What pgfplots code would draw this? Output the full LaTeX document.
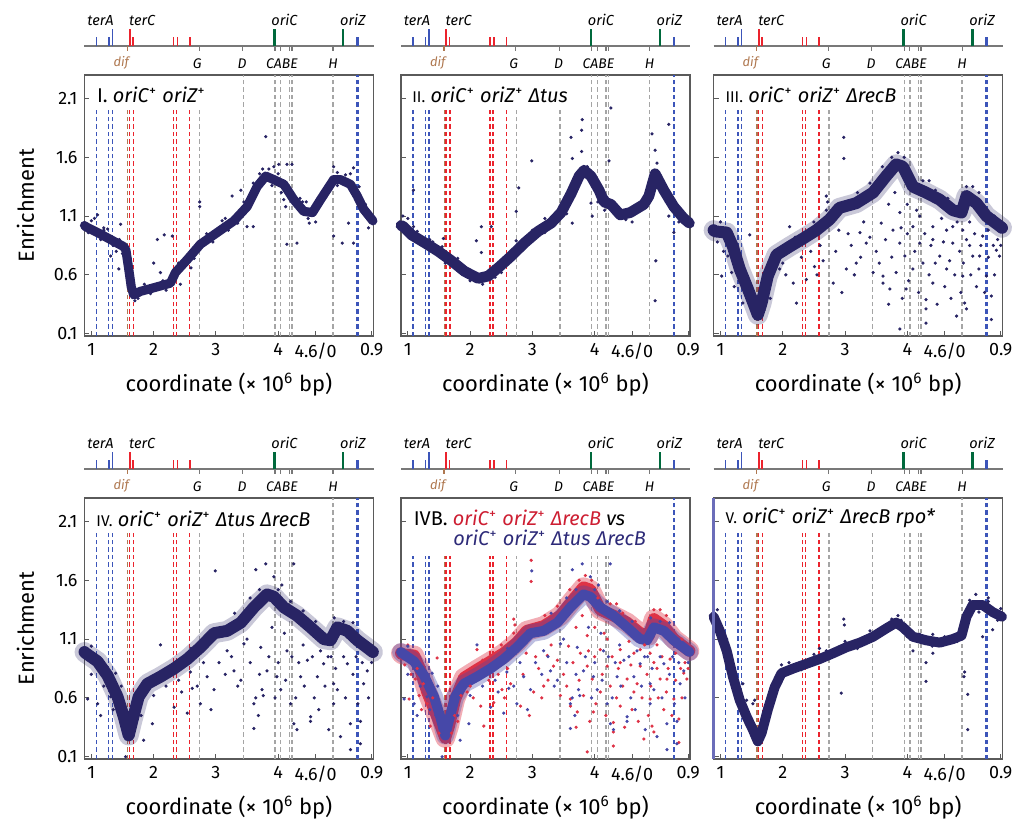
\documentclass[border=0pt]{standalone}
\usepackage{fontspec}
\setmainfont{Fira Sans}
\usepackage{pgfplots}
\usepackage{pgfplotstable}
\pgfplotsset{compat=1.18}

\definecolor{navy}{RGB}{40,36,100}
\definecolor{lred}{RGB}{235,35,45}
\definecolor{lblue}{RGB}{60,85,185}
\definecolor{lgrey}{RGB}{165,165,165}
\definecolor{dgreen}{RGB}{0,105,60}
\definecolor{difbrown}{RGB}{175,120,80}
\definecolor{mapgrey}{RGB}{120,120,120}
\definecolor{axgrey}{RGB}{90,90,90}
\definecolor{ivbred}{RGB}{222,50,70}
\definecolor{ivbblue}{RGB}{70,72,168}
\definecolor{titlered}{RGB}{205,30,50}
\definecolor{titlenavy}{RGB}{45,42,120}

\pgfplotstableread{
x y
0.89 1.02
0.91 1.01
1.10 0.96
1.31 0.90
1.52 0.84
1.555 0.81
1.60 0.65
1.64 0.50
1.68 0.43
1.79 0.46
2.00 0.49
2.27 0.53
2.35 0.62
2.54 0.73
2.75 0.86
3.02 0.96
3.29 1.06
3.50 1.18
3.66 1.35
3.80 1.44
3.93 1.41
4.09 1.37
4.25 1.24
4.41 1.14
4.55 1.13
4.68 1.24
4.89 1.41
5.00 1.41
5.16 1.37
5.27 1.27
5.37 1.16
5.52 1.06
}\bandI
\pgfplotstableread{
x y
3.80 1.775
1.10 1.11
1.05 1.08
1.26 0.99
1.47 1.03
1.44 0.65
1.31 0.76
1.40 0.80
2.06 0.90
2.17 0.94
2.00 0.70
2.11 0.62
2.30 0.93
2.74 1.22
2.74 1.18
2.43 0.52
3.26 1.27
3.40 1.32
3.50 1.01
3.60 1.01
3.93 1.52
4.01 1.54
4.14 1.54
4.22 1.54
4.09 1.24
4.12 1.18
4.14 0.86
4.30 0.87
4.39 1.22
4.89 1.52
5.21 1.51
5.16 1.46
5.03 0.87
5.21 0.87
4.89 0.93
5.13 1.04
3.85 1.50
3.70 1.46
4.05 1.30
4.45 1.22
4.60 1.05
4.50 1.04
1.70 0.38
1.75 0.40
1.66 0.60
1.62 0.75
2.60 0.66
3.10 1.06
3.20 0.98
5.45 1.00
5.30 1.35
4.95 1.47
0.95 0.96
1.20 0.98
1.00 1.06
1.15 0.90
1.20 1.00
1.35 0.85
1.45 0.90
1.50 0.78
1.85 0.52
1.95 0.44
2.15 0.55
2.20 0.47
2.40 0.70
2.65 0.74
2.85 0.95
2.95 0.88
3.15 1.08
3.35 1.04
3.45 1.22
3.55 1.20
3.60 1.38
3.75 1.50
3.90 1.36
4.00 1.46
4.20 1.33
4.30 1.18
4.35 1.25
4.48 1.08
4.62 1.18
4.70 1.30
4.80 1.30
4.95 1.36
5.08 1.45
5.20 1.30
5.33 1.24
5.40 1.20
5.50 1.10
}\dotsI
\pgfplotstableread{
x y
0.89 1.02
0.93 1.01
1.06 0.94
1.28 0.87
1.49 0.80
1.70 0.72
1.91 0.63
2.13 0.57
2.29 0.59
2.45 0.66
2.66 0.76
2.87 0.87
3.09 0.97
3.30 1.04
3.46 1.13
3.62 1.29
3.75 1.44
3.83 1.49
3.94 1.44
4.07 1.32
4.15 1.22
4.26 1.20
4.41 1.11
4.57 1.13
4.79 1.20
4.87 1.27
4.97 1.46
5.11 1.32
5.27 1.18
5.43 1.08
5.52 1.04
}\bandII
\pgfplotstableread{
x y
3.80 1.92
3.79 1.83
3.62 1.77
3.64 1.59
3.79 1.65
4.26 2.02
4.23 1.57
4.92 1.80
4.97 1.66
2.99 1.57
2.78 1.34
2.74 1.14
2.74 0.89
2.34 1.01
2.18 1.01
2.10 0.89
2.18 0.79
1.57 0.91
1.09 1.01
1.09 1.32
4.98 0.72
4.97 0.38
3.94 1.21
3.96 1.10
4.16 1.15
5.19 1.88
5.19 1.10
5.27 0.96
3.64 1.04
3.55 1.12
0.92 1.10
1.00 1.08
1.40 0.88
1.60 0.70
2.50 0.62
3.20 1.08
4.05 1.22
4.60 1.05
5.00 1.55
5.35 1.05
1.15 0.97
1.35 0.90
1.55 0.84
1.80 0.74
2.00 0.55
2.20 0.52
2.40 0.58
2.55 0.75
2.75 0.85
3.00 0.98
3.20 0.96
3.40 1.14
3.55 1.16
3.70 1.42
3.88 1.52
4.00 1.32
4.10 1.22
4.20 1.26
4.35 1.13
4.50 1.07
4.70 1.20
4.82 1.20
4.92 1.38
5.05 1.45
5.15 1.22
5.35 1.16
5.48 1.10
}\dotsII
\pgfplotstableread{
x y
0.89 0.98
0.91 0.97
1.10 0.96
1.20 0.84
1.31 0.65
1.44 0.48
1.55 0.33
1.60 0.26
1.66 0.36
1.76 0.59
1.90 0.77
2.11 0.84
2.33 0.91
2.54 0.98
2.75 1.07
2.91 1.17
3.18 1.21
3.45 1.30
3.66 1.44
3.82 1.54
3.93 1.52
4.09 1.35
4.30 1.30
4.52 1.24
4.73 1.15
4.87 1.13
4.95 1.27
5.11 1.21
5.27 1.10
5.52 1.00
}\bandIII
\pgfplotstableread{
x y
2.98 1.77
2.98 1.59
2.11 1.01
2.70 1.27
2.72 1.22
1.47 0.94
1.02 0.59
1.12 0.76
1.31 0.55
1.36 0.36
1.25 0.72
1.85 0.62
2.17 0.53
2.22 0.36
2.38 0.56
2.51 0.67
2.81 0.53
3.02 0.65
3.18 0.70
3.34 0.87
3.45 0.62
3.61 0.59
3.61 0.53
3.72 0.48
3.77 0.98
3.88 0.87
3.96 0.76
3.98 0.48
4.09 0.65
4.20 0.87
4.30 0.31
4.30 0.19
4.41 0.53
4.52 0.76
4.63 0.65
4.73 0.87
4.79 0.25
4.89 0.59
4.92 0.36
4.95 0.31
5.05 0.76
5.11 0.50
5.21 0.93
5.27 0.59
5.35 0.42
5.35 0.22
5.43 0.81
5.48 0.76
3.58 1.04
3.88 1.13
4.20 1.10
4.41 1.01
4.63 0.98
4.89 0.98
3.24 0.96
4.09 1.01
4.41 0.90
4.73 1.01
4.95 0.90
5.16 0.76
3.88 0.14
4.30 0.39
3.30 1.05
3.05 0.95
2.60 0.85
2.45 0.80
2.90 0.98
3.70 1.20
3.80 1.30
4.00 1.20
4.15 1.15
4.55 1.08
4.80 1.05
5.00 1.05
5.30 0.98
5.45 0.90
3.95 1.60
3.85 1.64
4.35 1.40
5.05 1.35
0.95 0.88
1.15 0.85
1.70 0.30
1.50 0.30
2.00 0.70
3.10 0.85
3.15 0.60
3.25 0.75
3.40 0.92
3.50 0.80
3.55 0.70
3.65 0.90
3.70 0.35
3.75 0.75
3.82 0.62
3.90 1.00
3.92 0.40
4.00 0.95
4.02 0.55
4.12 0.80
4.18 0.45
4.25 0.70
4.28 0.95
4.35 0.60
4.38 0.85
4.45 0.70
4.48 0.35
4.58 0.88
4.60 0.50
4.68 0.72
4.70 0.40
4.76 0.60
4.84 0.80
4.86 0.45
4.90 0.70
5.00 0.85
5.02 0.60
5.08 0.95
5.15 0.65
5.18 0.85
5.24 0.45
5.30 0.75
5.38 0.85
5.40 0.60
5.50 0.85
2.30 0.75
2.55 0.60
2.65 0.72
2.85 0.80
2.95 0.45
1.05 0.80
1.18 0.62
1.22 0.50
1.40 0.60
1.75 0.45
1.80 0.40
1.95 0.65
2.05 0.60
3.20 1.30
3.40 1.38
3.60 1.52
3.75 1.60
4.05 1.45
4.25 1.40
4.45 1.32
4.65 1.25
4.95 1.35
5.15 1.30
5.40 1.10
2.50 1.05
2.70 1.15
2.20 0.92
1.00 1.05
}\dotsIII
\pgfplotstableread{
x y
0.89 0.99
0.91 0.98
1.10 0.91
1.26 0.79
1.42 0.61
1.52 0.44
1.60 0.28
1.66 0.41
1.76 0.61
1.90 0.72
2.11 0.78
2.33 0.85
2.54 0.93
2.75 1.03
2.97 1.15
3.18 1.17
3.40 1.24
3.61 1.37
3.82 1.48
3.93 1.46
4.09 1.37
4.30 1.30
4.52 1.20
4.73 1.10
4.84 1.09
4.95 1.20
5.11 1.17
5.27 1.09
5.52 0.99
}\bandIV
\pgfplotstableread{
x y
2.99 1.68
3.64 1.69
3.80 1.74
4.25 1.74
3.93 1.63
4.06 1.56
2.11 1.05
0.94 0.59
1.10 0.55
1.31 0.61
1.39 0.81
1.15 0.45
1.84 0.24
1.55 0.10
2.33 0.52
2.54 0.47
2.75 0.55
2.86 0.78
2.97 0.67
3.29 0.83
3.35 0.70
3.61 0.55
3.64 0.60
3.74 0.67
3.76 0.62
3.61 0.34
3.82 0.83
3.98 0.78
4.04 0.67
4.20 0.55
4.25 0.38
4.30 0.33
4.36 0.78
4.52 0.44
4.52 0.40
4.63 0.78
4.73 0.89
4.81 0.33
4.89 0.55
4.95 0.67
5.00 0.27
5.16 0.38
5.16 0.16
5.32 0.40
5.32 0.21
5.37 0.72
4.89 0.72
4.47 0.92
4.14 1.00
3.72 1.03
3.45 1.06
3.18 1.00
4.68 1.00
5.11 0.89
5.43 0.83
2.59 0.82
2.62 0.68
1.98 0.38
3.50 1.10
3.90 1.20
4.10 1.15
4.40 1.05
4.85 0.95
5.25 0.95
2.40 0.75
2.20 0.70
1.70 0.50
1.45 0.45
3.05 0.90
3.15 0.80
3.25 0.95
3.40 0.75
3.55 0.90
3.68 0.45
3.70 0.80
3.85 0.95
3.95 0.60
4.00 0.90
4.12 0.75
4.22 0.95
4.28 0.60
4.33 0.90
4.42 0.70
4.55 0.95
4.58 0.60
4.65 0.50
4.75 0.70
4.80 0.95
4.92 0.85
5.05 0.95
5.08 0.60
5.20 0.80
5.28 0.55
5.35 0.90
5.45 0.60
5.50 0.90
2.45 0.65
2.70 0.70
2.80 0.90
2.92 0.50
1.00 0.80
1.20 0.70
1.35 0.50
1.48 0.70
1.80 0.45
2.00 0.62
3.30 1.32
3.55 1.45
3.70 1.52
4.00 1.52
4.20 1.42
4.40 1.34
4.60 1.25
4.90 1.28
5.05 1.25
5.20 1.24
5.45 1.05
2.60 1.02
2.85 1.12
1.00 1.04
}\dotsIV
\pgfplotstableread{
x y
0.89 1.29
0.99 1.17
1.10 1.00
1.20 0.78
1.31 0.58
1.42 0.44
1.52 0.33
1.60 0.23
1.66 0.30
1.76 0.50
1.87 0.69
1.98 0.81
2.17 0.85
2.38 0.89
2.59 0.93
2.81 0.98
3.02 1.03
3.24 1.07
3.45 1.12
3.66 1.19
3.82 1.24
3.93 1.20
4.09 1.12
4.30 1.09
4.52 1.07
4.73 1.10
4.87 1.13
4.95 1.29
5.05 1.39
5.21 1.39
5.37 1.33
5.52 1.29
}\bandV
\pgfplotstableread{
x y
2.98 1.27
2.99 1.22
2.94 0.64
1.36 0.72
1.42 0.58
1.52 0.55
1.55 0.58
1.63 0.35
1.98 0.88
4.30 0.74
4.30 0.90
4.92 0.82
4.91 0.78
4.97 0.63
4.97 0.33
5.21 1.12
5.37 1.18
2.70 1.00
2.59 1.02
4.41 0.98
4.09 1.00
4.41 1.14
3.85 1.30
5.10 1.48
5.30 1.45
1.10 1.10
0.95 1.35
1.05 1.10
1.25 0.74
1.45 0.42
1.70 0.38
1.90 0.78
2.10 0.90
2.30 0.84
2.50 0.97
2.75 0.94
3.00 1.08
3.20 1.02
3.40 1.17
3.60 1.14
3.75 1.27
3.90 1.26
4.00 1.12
4.20 1.14
4.40 1.04
4.60 1.12
4.80 1.08
4.90 1.20
5.00 1.43
5.15 1.33
5.30 1.42
5.45 1.26
5.50 1.36
}\dotsV

\pgfplotsset{
  panel/.style={
    scale only axis, width=144.5bp, height=130.5bp,
    anchor=north west,
    xmin=0.89, xmax=5.53, ymin=0.08, ymax=2.3,
    clip=false,
    axis line style={axgrey, line width=0.6pt},
    xtick={1,2,3,4,4.6,5.5},
    xticklabels={1,2,3,4,4.6/0,0.9},
    ytick={0.1,0.6,1.1,1.6,2.1},
    tick align=inside, tick pos=left,
    major tick length=2.5bp,
    tick style={axgrey, line width=0.5pt},
    ticklabel style={font=\fontsize{9}{10}\selectfont},
    /pgf/number format/assume math mode=true,
    xlabel={coordinate (× 10\textsuperscript{6} bp)},
    xlabel style={font=\fontsize{11}{12}\selectfont, at={(axis description cs:0.5,-0.185)}, anchor=center},
  },
  leftpanel/.style={
    ylabel={Enrichment},
    ylabel style={font=\fontsize{11}{12}\selectfont, at={(axis description cs:-0.204,0.5)}, anchor=center},
  },
  otherpanel/.style={yticklabels={}},
  rl/.style={line width=0.7pt, dash pattern=on 2.2bp off 1.5bp},
  band/.style={line width=#1, line join=round, line cap=round},
  dots/.style={only marks, mark=*, mark size=0.6pt},
}

\newcommand{\vl}[4]{\addplot[rl,draw=#1,forget plot] coordinates {(#2,#3) (#2,#4)};}
\newcommand{\seg}[5]{\addplot[draw=#1,line width=#2,forget plot] coordinates {(#3,#4) (#3,#5)};}

\newcommand{\reflines}[5]{%
  \vl{lblue}{1.08}{0.08}{#1}
  \vl{lblue}{1.28}{0.08}{#1}
  \vl{lblue}{1.34}{0.08}{#1}
  \vl{difbrown}{1.585}{0.08}{#1}
  \vl{lred}{1.615}{0.08}{#1}
  \vl{lred}{1.675}{0.08}{#1}
  \vl{lred}{2.32}{0.08}{#1}
  \vl{lred}{2.37}{0.08}{#1}
  \vl{lred}{2.58}{0.08}{#1}
  \vl{lgrey}{2.74}{0.08}{#1}
  \vl{lgrey}{3.44}{0.08}{#2}
  \vl{lgrey}{3.95}{0.08}{#3}
  \vl{lgrey}{4.04}{0.08}{#3}
  \vl{lgrey}{4.18}{0.08}{#3}
  \vl{lgrey}{4.22}{0.08}{#3}
  \vl{lgrey}{4.88}{0.08}{#4}
  \vl{lblue}{5.262}{0.08}{#5}
  \vl{lblue}{5.285}{0.08}{#5}
}

\newcommand{\genomemap}{%
  \addplot[draw=mapgrey, line width=0.8pt, forget plot] coordinates {(0.89,2.546) (5.53,2.546)};
  \seg{lblue}{0.75pt}{1.08}{2.546}{2.62}
  \seg{lblue}{0.75pt}{1.28}{2.546}{2.62}
  \seg{lblue}{0.8pt}{1.34}{2.546}{2.69}
  \seg{lred}{0.8pt}{1.617}{2.546}{2.69}
  \seg{lred}{0.75pt}{1.67}{2.546}{2.62}
  \seg{lred}{0.75pt}{2.32}{2.546}{2.62}
  \seg{lred}{0.75pt}{2.38}{2.546}{2.62}
  \seg{lred}{0.75pt}{2.58}{2.546}{2.62}
  \seg{dgreen}{1.1pt}{3.94}{2.546}{2.69}
  \seg{dgreen}{1.1pt}{5.045}{2.546}{2.69}
  \seg{lblue}{0.75pt}{5.262}{2.546}{2.62}
  \seg{lblue}{0.75pt}{5.28}{2.546}{2.62}
  \seg{difbrown}{0.8pt}{1.58}{2.546}{2.50}
  \seg{mapgrey}{0.6pt}{2.73}{2.546}{2.50}
  \seg{mapgrey}{0.6pt}{3.43}{2.546}{2.50}
  \seg{mapgrey}{0.6pt}{3.95}{2.546}{2.50}
  \seg{mapgrey}{0.6pt}{4.04}{2.546}{2.50}
  \seg{mapgrey}{0.6pt}{4.18}{2.546}{2.50}
  \seg{mapgrey}{0.6pt}{4.22}{2.546}{2.50}
  \seg{mapgrey}{0.6pt}{4.88}{2.546}{2.50}
  \node[font=\fontsize{7.3}{8}\selectfont\itshape] at (axis cs:1.147,2.766) {terA};
  \node[font=\fontsize{7.3}{8}\selectfont\itshape] at (axis cs:1.816,2.766) {terC};
  \node[font=\fontsize{7.3}{8}\selectfont\itshape] at (axis cs:4.10,2.766) {oriC};
  \node[font=\fontsize{7.3}{8}\selectfont\itshape] at (axis cs:5.20,2.766) {oriZ};
  \node[font=\fontsize{6.5}{7}\selectfont\itshape, text=difbrown] at (axis cs:1.48,2.40) {dif};
  \node[font=\fontsize{7}{8}\selectfont\itshape] at (axis cs:2.70,2.40) {G};
  \node[font=\fontsize{7}{8}\selectfont\itshape] at (axis cs:3.42,2.40) {D};
  \node[font=\fontsize{7}{8}\selectfont\itshape] at (axis cs:4.06,2.40) {CABE};
  \node[font=\fontsize{7}{8}\selectfont\itshape] at (axis cs:4.88,2.40) {H};
}

\newcommand{\titlefont}{\fontsize{10}{12}\selectfont}
\newcommand{\rn}[1]{{\fontsize{7.8}{9}\selectfont #1}}
\newcommand{\gp}[1]{\textit{#1}\textsuperscript{+}}

\begin{document}
\begin{tikzpicture}
\useasboundingbox (0,0) rectangle (509.5bp,-413.5bp);

% Panel I
\begin{axis}[panel, leftpanel, at={(42.25bp,-37.5bp)}]
  \genomemap
  \reflines{2.0}{2.3}{2.3}{2.3}{2.3}
  \addplot[navy, band=4.6pt] table {\bandI};
  \addplot[navy, dots] table {\dotsI};
  \node[anchor=west, font=\titlefont, inner sep=0pt] at (axis description cs:0.042,0.923) {I. \gp{oriC} \gp{oriZ}};
\end{axis}

% Panel II
\begin{axis}[panel, otherpanel, at={(200.5bp,-37.5bp)}]
  \genomemap
  \reflines{2.0}{2.0}{2.3}{2.3}{2.3}
  \addplot[navy, band=5.4pt] table {\bandII};
  \addplot[navy, dots] table {\dotsII};
  \node[anchor=west, font=\titlefont, inner sep=0pt] at (axis description cs:0.038,0.923) {\rn{II.} \gp{oriC} \gp{oriZ} \textit{Δtus}};
\end{axis}

% Panel III
\begin{axis}[panel, otherpanel, at={(356.8bp,-37.5bp)}]
  \genomemap
  \reflines{2.0}{2.0}{2.3}{2.3}{2.3}
  \addplot[navy, opacity=0.25, band=10pt] table {\bandIII};
  \addplot[navy, band=6pt] table {\bandIII};
  \addplot[navy, dots] table {\dotsIII};
  \node[anchor=west, font=\titlefont, inner sep=0pt] at (axis description cs:0.04,0.923) {\rn{III.} \gp{oriC} \gp{oriZ} \textit{ΔrecB}};
\end{axis}

% Panel IV
\begin{axis}[panel, leftpanel, at={(42.25bp,-249bp)}]
  \genomemap
  \reflines{2.0}{2.0}{2.0}{2.3}{2.3}
  \addplot[navy, opacity=0.25, band=10pt] table {\bandIV};
  \addplot[navy, band=6pt] table {\bandIV};
  \addplot[navy, dots] table {\dotsIV};
  \node[anchor=west, font=\titlefont, inner sep=0pt] at (axis description cs:0.04,0.92) {\rn{IV.} \gp{oriC} \gp{oriZ} \textit{Δtus} \textit{ΔrecB}};
\end{axis}

% Panel IVB
\begin{axis}[panel, otherpanel, at={(200.5bp,-249bp)}]
  \genomemap
  \reflines{1.81}{1.81}{1.81}{1.81}{2.3}
  \addplot[ivbred, opacity=0.4, band=10pt] table {\bandIII};
  \addplot[ivbred, band=6pt] table {\bandIII};
  \addplot[ivbblue, opacity=0.35, band=9pt] table {\bandIV};
  \addplot[ivbblue, band=5pt] table {\bandIV};
  \addplot[ivbred, dots] table {\dotsIII};
  \addplot[ivbblue, dots] table {\dotsIV};
  \node[anchor=west, font=\titlefont, inner sep=0pt] at (axis description cs:0.043,0.923) {IVB. \textcolor{titlered}{\gp{oriC} \gp{oriZ} \textit{ΔrecB}} \textit{vs}};
  \node[anchor=west, font=\titlefont, inner sep=0pt, text=titlenavy] at (axis description cs:0.18,0.847) {\gp{oriC} \gp{oriZ} \textit{Δtus} \textit{ΔrecB}};
\end{axis}

% Panel V
\begin{axis}[panel, otherpanel, at={(356.8bp,-249bp)}]
  \genomemap
  \reflines{2.0}{2.0}{2.0}{2.3}{2.3}
  \addplot[navy, band=5pt] table {\bandV};
  \addplot[navy, dots] table {\dotsV};
  \addplot[draw=ivbblue!80!white, line width=1.2pt, forget plot] coordinates {(0.89,0.08) (0.89,2.3)};
  \node[anchor=west, font=\titlefont, inner sep=0pt] at (axis description cs:0.04,0.923) {\rn{V.} \gp{oriC} \gp{oriZ} \textit{ΔrecB} \textit{rpo*}};
\end{axis}
\end{tikzpicture}
\end{document}
